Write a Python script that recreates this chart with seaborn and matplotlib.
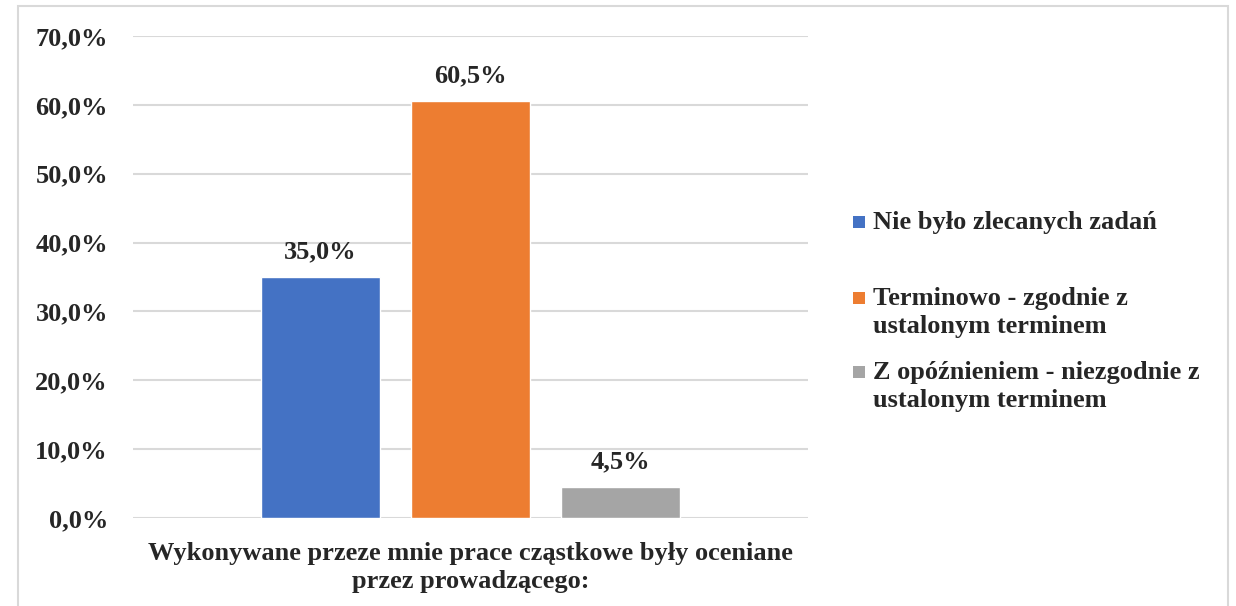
import pandas as pd
import seaborn as sns
import matplotlib.pyplot as plt
from matplotlib.patches import Rectangle

# Dane z wykresu
pytanie = "Wykonywane przeze mnie prace cząstkowe były oceniane\nprzez prowadzącego:"
odpowiedzi = ["Nie było zlecanych zadań",
              "Terminowo - zgodnie z\nustalonym terminem",
              "Z opóźnieniem - niezgodnie z\nustalonym terminem"]
procenty = [35.0, 60.5, 4.5]
kolory = ["#4472C4", "#ED7D31", "#A5A5A5"]

df = pd.DataFrame({"pytanie": [pytanie] * 3, "odpowiedz": odpowiedzi, "procent": procenty})

sns.set_style("white")
plt.rcParams["font.family"] = ["Liberation Serif", "DejaVu Serif"]
plt.rcParams["font.weight"] = "bold"
FS = 19

fig = plt.figure(figsize=(12.36, 6.06), dpi=100)
ax = fig.add_axes([0.1076, 0.1452, 0.5461, 0.7954])

# Ramka wokół całego wykresu
fig.patches.append(Rectangle((18 / 1236, -0.01), 1210 / 1236, 1 - 6 / 606 + 0.01,
                             transform=fig.transFigure, fill=False,
                             edgecolor="#D9D9D9", linewidth=1.5))

sns.barplot(data=df, x="pytanie", y="procent", hue="odpowiedz", palette=kolory,
            saturation=1, width=0.667, gap=0.21, errorbar=None, ax=ax, legend=False)

ax.set_ylim(0, 70)
ax.set_xlim(-0.5, 0.5)
ax.set_yticks(range(0, 71, 10))
ax.set_yticklabels([f"{v:.1f}%".replace(".", ",") for v in range(0, 71, 10)],
                   fontsize=FS, fontweight="bold")
ax.set_xticks([])
ax.set_ylabel("")
ax.set_xlabel(pytanie, fontsize=FS, fontweight="bold", labelpad=17, linespacing=1.32)
ax.tick_params(axis="y", length=0, pad=18)
ax.yaxis.grid(True, color="#D9D9D9", linewidth=1.5)
ax.set_axisbelow(True)
sns.despine(ax=ax, left=True, bottom=True)

for cont in ax.containers:
    ax.bar_label(cont, labels=[f"{v:.1f}%".replace(".", ",") for v in cont.datavalues],
                 padding=10, fontsize=FS, fontweight="bold")

# Legenda (znacznik wyrównany do pierwszej linii opisu, jak w Excelu)
leg_y = [222 / 606, 298 / 606, 372 / 606]
for lab, kol, y in zip(odpowiedzi, kolory, leg_y):
    fig.patches.append(Rectangle((853 / 1236, 1 - y - 6 / 606), 12 / 1236, 12 / 606,
                                 transform=fig.transFigure, facecolor=kol, edgecolor="none"))
    fig.text(873 / 1236, 1 - y + 11 / 606, lab, fontsize=FS, fontweight="bold",
             va="top", ha="left", linespacing=1.28)

fig.savefig("out.png", dpi=100)
